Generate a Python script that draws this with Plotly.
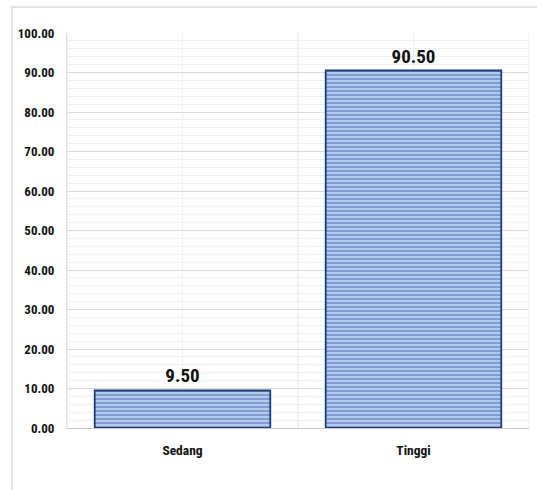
import plotly.graph_objects as go

categories = ["Sedang", "Tinggi"]
values = [9.50, 90.50]
value_labels = ["9.50", "90.50"]

FONT = "Roboto Condensed, DejaVu Sans Condensed, sans-serif"

fig = go.Figure()
fig.add_trace(go.Bar(
    x=categories, y=values,
    width=0.76,
    text=value_labels, textposition="outside",
    textfont=dict(family=FONT, size=19, color="#111111", weight="bold"),
    cliponaxis=False,
    marker=dict(
        color="#b5c9ec",
        line=dict(color="#1f3d7a", width=1.8),
        pattern=dict(shape="-", fgcolor="#4569ad", bgcolor="#bccfee", size=4, solidity=0.55),
    ),
))

W, H = 537, 490
L, R, T, B = 67, 8, 33, 62
pw, ph = W - L - R, H - T - B

shapes = []
for xv in [-0.5, 0.5, 1.5]:
    shapes.append(dict(type="line", xref="x", yref="paper", x0=xv, x1=xv, y0=0, y1=1,
                       line=dict(color="#e6e6e6", width=1), layer="below"))
shapes.append(dict(type="rect", xref="paper", yref="paper",
                   x0=(12 - L) / pw, x1=(W + 5 - L) / pw,
                   y0=-(B + 10) / ph, y1=1 + (T - 7) / ph,
                   line=dict(color="#d9d9d9", width=1.3), fillcolor="rgba(0,0,0,0)", layer="below"))

fig.update_layout(
    width=W, height=H,
    margin=dict(l=L, r=R, t=T, b=B),
    paper_bgcolor="white", plot_bgcolor="white",
    showlegend=False,
    font=dict(family=FONT, color="#111111"),
    shapes=shapes,
    xaxis=dict(
        range=[-0.5, 1.5],
        showgrid=True, gridcolor="#f0f0f0", gridwidth=1,
        showline=True, linecolor="#c8c8c8", linewidth=1.3,
        ticks="", tickfont=dict(family=FONT, size=13.5, color="#111111", weight="bold"),
        ticklabelstandoff=10,
    ),
    yaxis=dict(
        range=[0, 100], dtick=10, tickformat=".2f",
        showgrid=True, gridcolor="#dadada", gridwidth=1,
        zeroline=False,
        minor=dict(dtick=2, showgrid=True, gridcolor="#efefef", gridwidth=1),
        showline=True, linecolor="#e0e0e0",
        ticks="", tickfont=dict(family=FONT, size=13, color="#111111", weight="bold"),
        ticklabelstandoff=9,
    ),
)

fig.write_html("out.html")
